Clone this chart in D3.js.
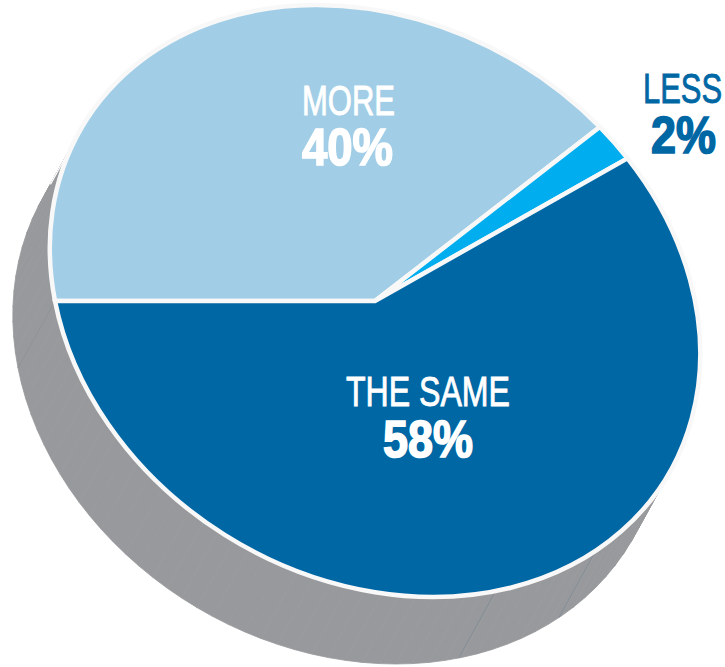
<!DOCTYPE html>
<html><head><meta charset="utf-8">
<script src="https://cdn.jsdelivr.net/npm/d3@7"></script>
<style>html,body{margin:0;padding:0;background:#fff}svg{display:block}</style>
</head><body><svg id="c" width="725" height="667"></svg>
<script>
const categories = ["MORE","LESS","THE SAME"];
const values = [40,2,58];
const sliceColors = ["#a1cee6","#00aeef","#0067a5"];
const seamAngles = [147.5,168.5,270]; // facets on the rim, degrees clockwise from top
const labelTexts = ["40%","2%","58%"];

const W=725,H=667,R=100;
const A=320,B=58,C=0,D=296,cx=375,cy=301;      // tilted disc
const dx=-37,dy=67;                            // extrusion
const svg=d3.select("#c");
const proj=(a,k=0)=>{const u=Math.sin(a),v=-Math.cos(a);
  return [cx+A*u+B*v+dx*k, cy+C*u+D*v+dy*k];};

// Rim
const rim=svg.append("g");
const rimAngles=d3.range(0,361,3).map(d=>d*Math.PI/180);
rim.selectAll("path").data(d3.pairs(rimAngles)).join("path")
  .attr("d",([a,b])=>d3.line()([proj(a),proj(b),proj(b,1),proj(a,1)])+"Z")
  .attr("fill","#98999c").attr("stroke","#98999c").attr("stroke-width",0.8);

// white cut at the upper-left of rim
svg.append("path")
  .attr("d",d3.line()([proj(-0.93,0.9),proj(-0.93,0.5)]))
  .attr("stroke","#fff").attr("stroke-width",1.2).attr("fill","none");

// Seams
svg.append("g").selectAll("line").data(seamAngles).join("line")
  .each(function(d){const a=d*Math.PI/180,p=proj(a),q=proj(a,1);
    d3.select(this).attr("x1",p[0]).attr("y1",p[1]).attr("x2",q[0]).attr("y2",q[1]);})
  .attr("stroke",(d,i)=>i==2?"#8e8f92":"#7d8b95").attr("stroke-width",0.8);

// Pie
const pie=d3.pie().sort(null).startAngle(-Math.PI/2).endAngle(1.5*Math.PI);
const arc=d3.arc().innerRadius(0).outerRadius(R);
const g=svg.append("g").attr("transform",`matrix(${A/R},${C/R},${B/R},${D/R},${cx},${cy})`);
g.selectAll("path").data(pie(values)).join("path")
  .attr("d",arc).attr("fill",(d,i)=>sliceColors[i])
  .attr("stroke","#f8f8f8").attr("stroke-width",4.5).attr("stroke-linejoin","miter")
  .attr("vector-effect","non-scaling-stroke");

// Labels
const F="'Liberation Sans Narrow','Liberation Sans',Arial,sans-serif",F2="'Liberation Sans',Arial,sans-serif";
const nameLay=[{x:348.5,y:115,w:93,c:"#fff"},{x:682.5,y:103,w:79,c:"#0067a5"},{x:428,y:406,w:164,c:"#fff"}];
const valLay=[{x:347.5,y:165,w:91,c:"#fff"},{x:683.5,y:153,w:65,c:"#0067a5"},{x:428,y:457,w:90,c:"#fff"}];
svg.append("g").selectAll("text").data(categories).join("text")
  .text(d=>d).attr("x",(d,i)=>nameLay[i].x).attr("y",(d,i)=>nameLay[i].y)
  .attr("text-anchor","middle").attr("font-family",F).attr("font-size",43)
  .attr("textLength",(d,i)=>nameLay[i].w).attr("lengthAdjust","spacingAndGlyphs")
  .attr("fill",(d,i)=>nameLay[i].c).attr("stroke",(d,i)=>nameLay[i].c).attr("stroke-width",0.9);
svg.append("g").selectAll("text").data(labelTexts).join("text")
  .text(d=>d).attr("x",(d,i)=>valLay[i].x).attr("y",(d,i)=>valLay[i].y)
  .attr("text-anchor","middle").attr("font-family",F2).attr("font-weight","bold").attr("font-size",51)
  .attr("textLength",(d,i)=>valLay[i].w).attr("lengthAdjust","spacingAndGlyphs")
  .attr("fill",(d,i)=>valLay[i].c).attr("stroke",(d,i)=>valLay[i].c).attr("stroke-width",1.6);
</script></body></html>
